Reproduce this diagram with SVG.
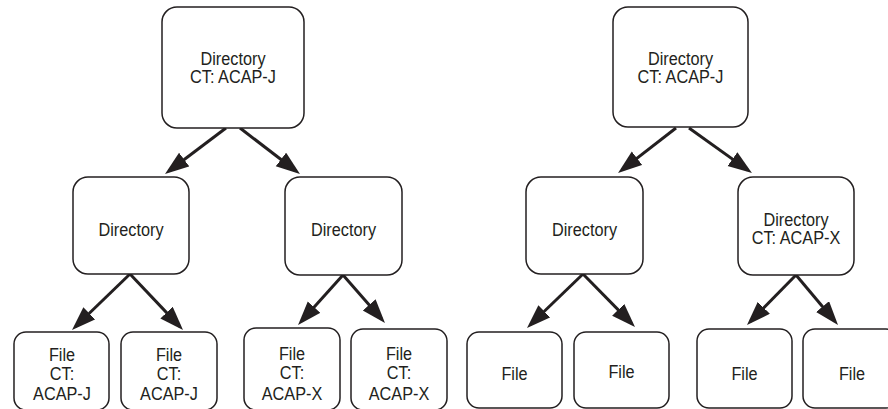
<svg xmlns="http://www.w3.org/2000/svg" width="888" height="409" viewBox="0 0 888 409">
  <style>
    .box { fill: #ffffff; stroke: #231f20; stroke-width: 1.5; }
    .lbl { font-family: "Liberation Sans", Arial, Helvetica, sans-serif; font-size: 17.5px; fill: #231f20; text-anchor: middle; }
    .arrow { stroke: #231f20; stroke-width: 3; fill: none; marker-end: url(#head); }
  </style>
  <defs>
    <marker id="head" markerUnits="userSpaceOnUse" markerWidth="26" markerHeight="18" refX="19" refY="8.5" orient="auto">
      <path d="M0,0 L24,8.5 L0,17 Z" fill="#231f20"/>
    </marker>
  </defs>
  <rect width="888" height="409" fill="#ffffff"/>

  <!-- connectors -->
  <g id="connectors">
    <!-- left tree -->
    <line class="arrow" x1="226" y1="128" x2="169" y2="171"/>
    <line class="arrow" x1="240" y1="128" x2="296" y2="171"/>
    <line class="arrow" x1="130" y1="274" x2="75.6" y2="326.5"/>
    <line class="arrow" x1="130" y1="274" x2="179.6" y2="326.4"/>
    <line class="arrow" x1="343" y1="275" x2="301.4" y2="321.3"/>
    <line class="arrow" x1="343" y1="275" x2="381.7" y2="319.2"/>
    <!-- right tree -->
    <line class="arrow" x1="676" y1="128" x2="622" y2="169.9"/>
    <line class="arrow" x1="689" y1="128" x2="747.9" y2="170.1"/>
    <line class="arrow" x1="583" y1="274" x2="530.6" y2="324.5"/>
    <line class="arrow" x1="583" y1="274" x2="631.5" y2="323.4"/>
    <line class="arrow" x1="796" y1="275" x2="750.5" y2="321.4"/>
    <line class="arrow" x1="796" y1="275" x2="834.8" y2="321.2"/>
  </g>

  <!-- left tree nodes -->
  <g id="rootL">
    <rect class="box" x="162" y="7" width="142" height="121" rx="15"/>
    <text class="lbl" transform="translate(233 0) scale(0.93 1)" y="65">Directory</text>
    <text class="lbl" transform="translate(233 0) scale(0.93 1)" y="83">CT: ACAP-J</text>
  </g>
  <g id="dirL1">
    <rect class="box" x="73" y="177" width="116" height="97" rx="15"/>
    <text class="lbl" transform="translate(131 0) scale(0.93 1)" y="236">Directory</text>
  </g>
  <g id="dirL2">
    <rect class="box" x="285" y="177" width="117" height="98" rx="15"/>
    <text class="lbl" transform="translate(343.5 0) scale(0.93 1)" y="236">Directory</text>
  </g>
  <g id="fileL1">
    <rect class="box" x="14" y="332" width="95" height="78" rx="12"/>
    <text class="lbl" transform="translate(62 0) scale(0.93 1)" y="361">File</text>
    <text class="lbl" transform="translate(62 0) scale(0.93 1)" y="380">CT:</text>
    <text class="lbl" transform="translate(62 0) scale(0.93 1)" y="400">ACAP-J</text>
  </g>
  <g id="fileL2">
    <rect class="box" x="121" y="332" width="96" height="78" rx="12"/>
    <text class="lbl" transform="translate(169 0) scale(0.93 1)" y="361">File</text>
    <text class="lbl" transform="translate(169 0) scale(0.93 1)" y="380">CT:</text>
    <text class="lbl" transform="translate(169 0) scale(0.93 1)" y="400">ACAP-J</text>
  </g>
  <g id="fileL3">
    <rect class="box" x="244" y="328" width="96" height="82" rx="12"/>
    <text class="lbl" transform="translate(292 0) scale(0.93 1)" y="360">File</text>
    <text class="lbl" transform="translate(292 0) scale(0.93 1)" y="379">CT:</text>
    <text class="lbl" transform="translate(292 0) scale(0.93 1)" y="400">ACAP-X</text>
  </g>
  <g id="fileL4">
    <rect class="box" x="351" y="329" width="96" height="81" rx="12"/>
    <text class="lbl" transform="translate(399 0) scale(0.93 1)" y="360">File</text>
    <text class="lbl" transform="translate(399 0) scale(0.93 1)" y="379">CT:</text>
    <text class="lbl" transform="translate(399 0) scale(0.93 1)" y="400">ACAP-X</text>
  </g>

  <!-- right tree nodes -->
  <g id="rootR">
    <rect class="box" x="613" y="7" width="135" height="120" rx="15"/>
    <text class="lbl" transform="translate(680.5 0) scale(0.93 1)" y="65">Directory</text>
    <text class="lbl" transform="translate(680.5 0) scale(0.93 1)" y="83">CT: ACAP-J</text>
  </g>
  <g id="dirR1">
    <rect class="box" x="526" y="177" width="117" height="97" rx="15"/>
    <text class="lbl" transform="translate(584.5 0) scale(0.93 1)" y="236">Directory</text>
  </g>
  <g id="dirR2">
    <rect class="box" x="738" y="177" width="116" height="98" rx="15"/>
    <text class="lbl" transform="translate(796 0) scale(0.93 1)" y="226">Directory</text>
    <text class="lbl" transform="translate(796 0) scale(0.93 1)" y="244">CT: ACAP-X</text>
  </g>
  <g id="fileR1">
    <rect class="box" x="467" y="332" width="95" height="76" rx="12"/>
    <text class="lbl" transform="translate(514.5 0) scale(0.93 1)" y="380">File</text>
  </g>
  <g id="fileR2">
    <rect class="box" x="574" y="332" width="95" height="76" rx="12"/>
    <text class="lbl" transform="translate(621.5 0) scale(0.93 1)" y="378">File</text>
  </g>
  <g id="fileR3">
    <rect class="box" x="697" y="329" width="95" height="79" rx="12"/>
    <text class="lbl" transform="translate(744.5 0) scale(0.93 1)" y="380">File</text>
  </g>
  <g id="fileR4">
    <rect class="box" x="803" y="329" width="95" height="79" rx="12"/>
    <text class="lbl" transform="translate(852 0) scale(0.93 1)" y="380">File</text>
  </g>
</svg>
